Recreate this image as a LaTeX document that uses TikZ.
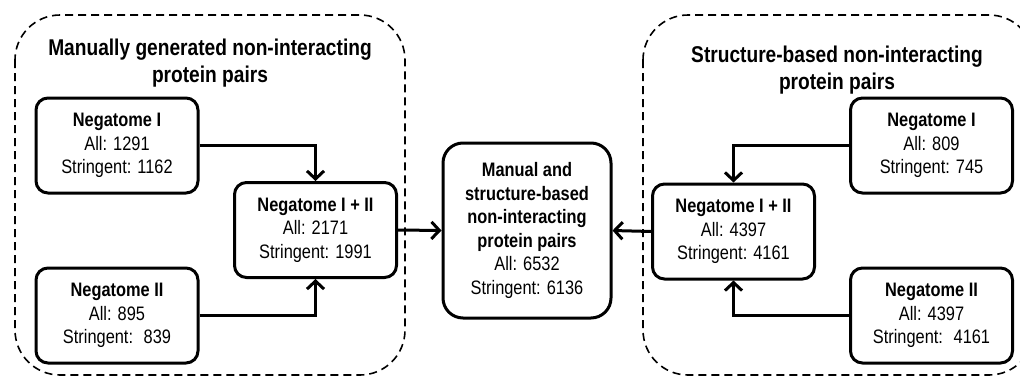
\documentclass[tikz,border=0pt]{standalone}
\usepackage{fontspec}
\setmainfont[FakeStretch=0.84]{Liberation Sans}
\usetikzlibrary{arrows.meta}

\begin{document}
\begin{tikzpicture}[x=1pt,y=-1pt,
    box/.style={draw,line width=3pt,rounded corners=12pt,minimum width=162pt,minimum height=95pt,
        align=center,inner sep=0pt,font=\fontsize{19.5}{23.5}\selectfont},
    group/.style={draw,line width=1.6pt,dash pattern=on 8pt off 5pt,rounded corners=45pt},
    title/.style={align=center,font=\fontsize{22.8}{27}\selectfont\bfseries},
    link/.style={line width=3pt,-{Straight Barb[length=8pt,width=17pt]}}]
    \useasboundingbox (0,0) rectangle (1020,378);

    % Dashed groups
    \draw[group] (15,15) rectangle (405,375);
    \draw[group] (643,15) rectangle (1034,375);
    \node[title] (ltitle) at (210,63) {Manually generated non-interacting\\protein pairs};
    \node[title] (rtitle) at (837,70) {Structure-based non-interacting\\protein pairs};

    % Manual side
    \node[box] (lnegI) at (117,145.5) {\textbf{Negatome I}\\All: 1291\\Stringent: 1162};
    \node[box] (lnegII) at (117,315.5) {\textbf{Negatome II}\\All: 895\\Stringent:~ 839};
    \node[box] (lsum) at (315.5,230) {\textbf{Negatome I + II}\\All: 2171\\Stringent: 1991};

    % Combined set
    \node[box,minimum width=168pt,minimum height=175pt,rounded corners=20pt] (all) at (527,230.5)
        {\textbf{Manual and}\\\textbf{structure-based}\\\textbf{non-interacting}\\\textbf{protein pairs}\\All: 6532\\Stringent: 6136};

    % Structure-based side
    \node[box] (rsum) at (733.5,231.5) {\textbf{Negatome I + II}\\All: 4397\\Stringent: 4161};
    \node[box] (rnegI) at (931.5,145.5) {\textbf{Negatome I}\\All: 809\\Stringent: 745};
    \node[box] (rnegII) at (931.5,315.5) {\textbf{Negatome II}\\All: 4397\\Stringent:~ 4161};

    % Arrows
    \draw[link] (lnegI.east) -| (lsum.north);
    \draw[link] (lnegII.east) -| (lsum.south);
    \draw[link] (lsum.east) -- (all.west);
    \draw[link] (rnegI.west) -| (rsum.north);
    \draw[link] (rnegII.west) -| (rsum.south);
    \draw[link] (rsum.west) -- (all.east);
\end{tikzpicture}
\end{document}
